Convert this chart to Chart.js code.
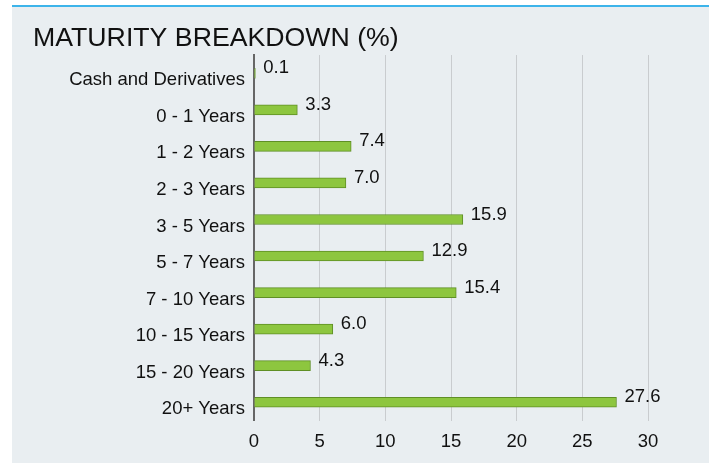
<!DOCTYPE html>
<html>
<head>
<meta charset="utf-8">
<script src="https://cdn.jsdelivr.net/npm/chart.js@4/dist/chart.umd.min.js"></script>
<style>
  body { margin: 0; background: #fff; }
  #panel {
    position: absolute; left: 12px; top: 5px; width: 697px; height: 458px;
    background: #e9eef1; border-top: 2px solid #3db4ea; box-sizing: border-box;
  }
  #wrap { position: absolute; left: 0; top: 0; width: 697px; height: 456px; }
</style>
</head>
<body>
<div id="panel"><div id="wrap"><canvas id="maturityCanvas"></canvas></div></div>
<script>
const categories = ["Cash and Derivatives", "0 - 1 Years", "1 - 2 Years", "2 - 3 Years", "3 - 5 Years",
    "5 - 7 Years", "7 - 10 Years", "10 - 15 Years", "15 - 20 Years", "20+ Years"];
const weights = [0.1, 3.3, 7.4, 7.0, 15.9, 12.9, 15.4, 6.0, 4.3, 27.6];
const xTicks = [0, 5, 10, 15, 20, 25, 30];

const fontFamily = "'Liberation Sans', Arial, sans-serif";

// valeurs au bout des barres
const barValues = {
    id: 'barValues',
    afterDatasetsDraw(chart) {
        const ctx = chart.ctx;
        const meta = chart.getDatasetMeta(0);
        ctx.save();
        ctx.font = "18.5px " + fontFamily;
        ctx.fillStyle = "#111";
        ctx.textAlign = "left";
        ctx.textBaseline = "middle";
        meta.data.forEach((bar, i) => {
            ctx.fillText(weights[i].toFixed(1), bar.x + 8, bar.y - 5);
        });
        ctx.restore();
    }
};

const maturityCanvas = document.getElementById("maturityCanvas");

const maturityChart = new Chart(maturityCanvas, {
    type: "bar",
    data: {
        labels: categories,
        datasets: [{
            data: weights,
            backgroundColor: "#8dc63f",
            borderColor: "#5f8f25",
            borderWidth: 1,
            barThickness: 10
        }]
    },
    plugins: [barValues],
    options: {
        indexAxis: 'y',
        responsive: true,
        maintainAspectRatio: false,
        animation: false,
        layout: {
            padding: { left: 21, right: 61, top: 0, bottom: 0 }
        },
        plugins: {
            legend: { display: false },
            tooltip: { enabled: false },
            title: {
                display: true,
                text: "MATURITY BREAKDOWN (%)",
                align: 'start',
                color: "#111",
                font: { family: fontFamily, size: 26.7, weight: 'normal' },
                padding: { top: 16, bottom: 0 }
            }
        },
        scales: {
            x: {
                min: 0,
                max: 30,
                afterBuildTicks(scale) {
                    scale.ticks = xTicks.map(v => ({ value: v }));
                },
                grid: { color: "#c9cccf", drawTicks: false },
                border: { display: false },
                ticks: {
                    color: "#111",
                    padding: 12,
                    font: { family: fontFamily, size: 18.5, lineHeight: 1.0 }
                }
            },
            y: {
                afterFit(scale) { scale.width = 221; },
                grid: { display: false },
                border: { color: "#666", width: 2 },
                ticks: {
                    color: "#111",
                    padding: 1,
                    labelOffset: 7,
                    font: { family: fontFamily, size: 18.5 }
                }
            }
        }
    }
});
</script>
</body>
</html>
